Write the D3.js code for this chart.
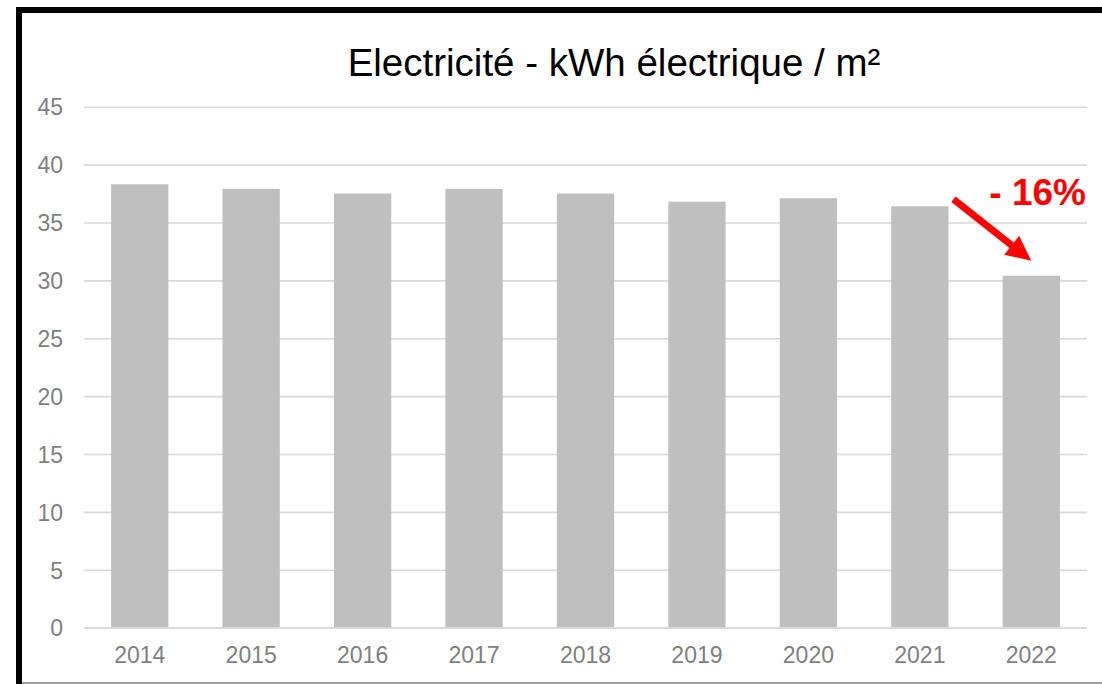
<!DOCTYPE html>
<html>
<head>
<meta charset="utf-8">
<script src="https://cdn.jsdelivr.net/npm/d3@7"></script>
<style>
  html, body { margin: 0; padding: 0; background: #ffffff; }
  svg { display: block; font-family: "Liberation Sans", Arial, sans-serif; }
</style>
</head>
<body>
<svg id="chart" width="1102" height="684"></svg>
<script>
// Electricity consumption per square metre, by year
const years = ["2014", "2015", "2016", "2017", "2018", "2019", "2020", "2021", "2022"];
const kwhPerM2 = [38.3, 37.9, 37.5, 37.9, 37.5, 36.8, 37.1, 36.4, 30.4];
const yTicks = [0, 5, 10, 15, 20, 25, 30, 35, 40, 45];
const titleText = "Electricité - kWh électrique / m²";
const changeLabel = "- 16%";

const W = 1102, H = 684;
const svg = d3.select("#chart");

const plot = { left: 84, right: 1087, top: 106.7, bottom: 627.7 };

const x = d3.scaleBand()
  .domain(years)
  .range([plot.left, plot.right])
  .paddingInner(0.486)
  .paddingOuter(0.243);

const y = d3.scaleLinear()
  .domain([0, 45])
  .range([plot.bottom, plot.top]);

// frame: thick black top and left edges, thin grey bottom edge
svg.append("line")
  .attr("x1", 16).attr("x2", W).attr("y1", 10).attr("y2", 10)
  .attr("stroke", "#000").attr("stroke-width", 6);
svg.append("line")
  .attr("x1", 19).attr("x2", 19).attr("y1", 7).attr("y2", H)
  .attr("stroke", "#000").attr("stroke-width", 6);
svg.append("line")
  .attr("x1", 22).attr("x2", W).attr("y1", 683).attr("y2", 683)
  .attr("stroke", "#7f7f7f").attr("stroke-width", 1.5);

// title
svg.append("text")
  .attr("x", 614).attr("y", 76)
  .attr("text-anchor", "middle")
  .attr("font-size", 38.5)
  .attr("fill", "#000")
  .text(titleText);

// horizontal gridlines and y labels
const yAxis = d3.axisLeft(y)
  .tickValues(yTicks)
  .tickSize(-(plot.right - plot.left))
  .tickPadding(21)
  .tickFormat(d3.format("d"));

const gy = svg.append("g")
  .attr("transform", `translate(${plot.left},0)`)
  .call(yAxis);
gy.select(".domain").remove();
gy.selectAll(".tick line").attr("stroke", "#d9d9d9").attr("stroke-width", 1.6);
gy.selectAll(".tick text")
  .attr("fill", "#7f7f7f")
  .attr("font-size", 23)
  .attr("font-family", "Liberation Sans, Arial, sans-serif")
  .attr("dy", "0.36em");

// bars
svg.append("g")
  .selectAll("rect")
  .data(years.map((yr, i) => ({ yr, v: kwhPerM2[i] })))
  .join("rect")
  .attr("x", d => x(d.yr))
  .attr("width", x.bandwidth())
  .attr("y", d => y(d.v))
  .attr("height", d => y(0) - y(d.v))
  .attr("fill", "#bfbfbf");

// redraw the baseline over the bars
svg.append("line")
  .attr("x1", plot.left).attr("x2", plot.right)
  .attr("y1", y(0)).attr("y2", y(0))
  .attr("stroke", "#d9d9d9").attr("stroke-width", 1.6);

// x labels
const xAxis = d3.axisBottom(x).tickSize(0).tickPadding(19);
const gx = svg.append("g")
  .attr("transform", `translate(0,${y(0)})`)
  .call(xAxis);
gx.select(".domain").remove();
gx.selectAll(".tick text")
  .attr("fill", "#7f7f7f")
  .attr("font-size", 23)
  .attr("font-family", "Liberation Sans, Arial, sans-serif");

// change annotation: arrow from the 2021 bar down to the 2022 bar
const bw = x.bandwidth();
const ax0 = x("2021") + bw + 5, ay0 = y(37.0);
const ax1 = x("2022") + bw / 2, ay1 = y(31.7);
const ang = Math.atan2(ay1 - ay0, ax1 - ax0);
const headLen = 25, headHalf = 12;
const bx = ax1 - headLen * Math.cos(ang), by = ay1 - headLen * Math.sin(ang);
const nx = -Math.sin(ang), ny = Math.cos(ang);

svg.append("line")
  .attr("x1", ax0).attr("y1", ay0)
  .attr("x2", bx + 2 * Math.cos(ang)).attr("y2", by + 2 * Math.sin(ang))
  .attr("stroke", "#ff0000").attr("stroke-width", 7);
svg.append("path")
  .attr("d", `M${ax1},${ay1} L${bx + nx * headHalf},${by + ny * headHalf} L${bx - nx * headHalf},${by - ny * headHalf} Z`)
  .attr("fill", "#ff0000");

svg.append("text")
  .attr("x", plot.right - 1).attr("y", 204.5)
  .attr("text-anchor", "end")
  .attr("font-size", 37)
  .attr("font-weight", "bold")
  .attr("fill", "#ff0000")
  .text(changeLabel);
</script>
</body>
</html>
